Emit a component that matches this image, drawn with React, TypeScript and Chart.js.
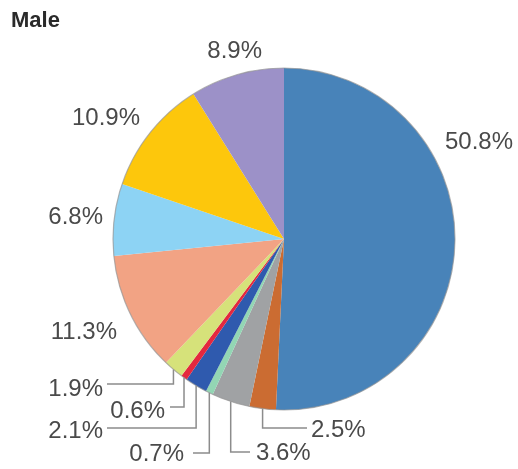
import React, { useEffect, useRef } from "react";
import { Chart, registerables } from "chart.js";

Chart.register(...registerables);

const title = "Male";
const categories = ["A", "B", "C", "D", "E", "F", "G", "H", "I", "J", "K"];
const values = [50.8, 2.5, 3.6, 0.7, 2.1, 0.6, 1.9, 11.3, 6.8, 10.9, 8.9];
const colors = [
  "#4883B9", "#CB6C32", "#A0A2A4", "#93D6B4", "#2F5AAE", "#E4283F",
  "#D6E27A", "#F2A384", "#8DD3F4", "#FDC70C", "#9C91C8",
];

// label layout: text anchor and optional leader line (y of horizontal run, x of its end)
type LabelLayout = { tx: number; ty: number; align: CanvasTextAlign; lineY?: number; lineX?: number };
const labelLayout: LabelLayout[] = [
  { tx: 445, ty: 142, align: "left" },
  { tx: 311, ty: 430, align: "left", lineY: 428, lineX: 307 },
  { tx: 256, ty: 453, align: "left", lineY: 452, lineX: 250 },
  { tx: 184, ty: 454, align: "right", lineY: 453, lineX: 193 },
  { tx: 103, ty: 431, align: "right", lineY: 428, lineX: 107 },
  { tx: 165, ty: 411, align: "right", lineY: 407, lineX: 170 },
  { tx: 103, ty: 389, align: "right", lineY: 384, lineX: 107 },
  { tx: 117, ty: 332, align: "right" },
  { tx: 103, ty: 217, align: "right" },
  { tx: 140, ty: 118, align: "right" },
  { tx: 262, ty: 51, align: "right" },
];

const labelPlugin = {
  id: "labelPlugin",
  afterDatasetsDraw(chart: any) {
    const ctx = chart.ctx as CanvasRenderingContext2D;
    const meta = chart.getDatasetMeta(0);
    ctx.save();
    // outer outline
    const a0 = meta.data[0].getProps(["x", "y", "outerRadius"], true);
    ctx.beginPath();
    ctx.arc(a0.x, a0.y, a0.outerRadius, 0, Math.PI * 2);
    ctx.strokeStyle = "rgba(150,150,150,0.7)";
    ctx.lineWidth = 1.2;
    ctx.stroke();

    ctx.font = "24px 'Liberation Sans', Arial, sans-serif";
    ctx.fillStyle = "#4a4a4a";
    ctx.textBaseline = "middle";
    meta.data.forEach((arc: any, i: number) => {
      const p = arc.getProps(["x", "y", "startAngle", "endAngle", "outerRadius"], true);
      const L = labelLayout[i];
      if (L.lineY !== undefined && L.lineX !== undefined) {
        const mid = (p.startAngle + p.endAngle) / 2;
        const ax = p.x + Math.cos(mid) * p.outerRadius;
        const ay = p.y + Math.sin(mid) * p.outerRadius;
        ctx.beginPath();
        ctx.moveTo(ax, ay);
        ctx.lineTo(ax, L.lineY);
        ctx.lineTo(L.lineX, L.lineY);
        ctx.strokeStyle = "#8c8c8c";
        ctx.lineWidth = 1.5;
        ctx.stroke();
      }
      ctx.textAlign = L.align;
      ctx.fillText(values[i].toFixed(1) + "%", L.tx, L.ty);
    });

    ctx.font = "bold 22px 'Liberation Sans', Arial, sans-serif";
    ctx.fillStyle = "#2a2a2a";
    ctx.textAlign = "left";
    ctx.textBaseline = "alphabetic";
    ctx.fillText(title, 11, 27);
    ctx.restore();
  },
};

export default function App() {
  const ref = useRef<HTMLCanvasElement>(null);
  useEffect(() => {
    if (!ref.current) return;
    const chart = new Chart(ref.current, {
      type: "pie",
      data: {
        labels: categories,
        datasets: [
          {
            data: values,
            backgroundColor: colors,
            borderWidth: 0,
          },
        ],
      },
      options: {
        responsive: true,
        maintainAspectRatio: false,
        animation: false,
        layout: { padding: { left: 113, right: 63, top: 68, bottom: 59 } },
        plugins: {
          legend: { display: false },
          tooltip: { enabled: false },
          title: { display: false },
        },
      },
      plugins: [labelPlugin],
    });
    return () => chart.destroy();
  }, []);
  return (
    <div style={{ position: "absolute", left: 0, top: 0, width: 518, height: 469, background: "#fff" }}>
      <canvas ref={ref} />
    </div>
  );
}
